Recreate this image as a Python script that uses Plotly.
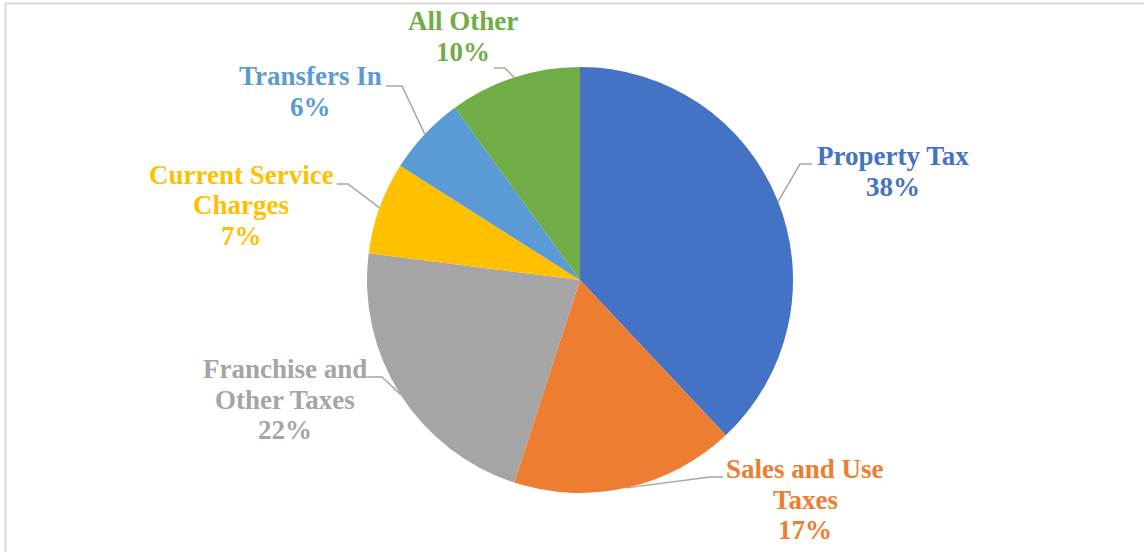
import math
import plotly.graph_objects as go

# ---- data ----
categories = ["Property Tax", "Sales and Use Taxes", "Franchise and Other Taxes",
              "Current Service Charges", "Transfers In", "All Other"]
values = [38, 17, 22, 7, 6, 10]
colors = ["#4472C4", "#ED7D31", "#A5A5A5", "#FFC000", "#5B9BD5", "#70AD47"]

# ---- label layout (pixels) ----
W, H = 1144, 552
CX, CY, R = 580, 280, 213
label_lines = [["Property Tax"], ["Sales and Use", "Taxes"], ["Franchise and", "Other Taxes"],
               ["Current Service", "Charges"], ["Transfers In"], ["All Other"]]
label_center = [(893, 156), (805, 469), (285, 369), (241, 175), (310, 76), (463, 21)]
elbow = [(800, 164), (710, 477), (382, 377), (348, 184), (402, 86), (505, 68)]
line_end_x = [812, 723, 367, 337, 386, 494]
LINE_H = 30.5
FONT = "Liberation Serif"
FS = 27


def px(x):
    return x / W


def py(y):
    return 1 - y / H


fig = go.Figure(go.Pie(
    labels=categories, values=values, sort=False, direction="clockwise", rotation=0,
    marker=dict(colors=colors, line=dict(width=0)),
    textinfo="none", hoverinfo="skip", showlegend=False,
    domain=dict(x=[px(CX - R), px(CX + R)], y=[py(CY + R), py(CY - R)]),
))

total = sum(values)
shapes = []
annotations = []
cum = 0
for i, v in enumerate(values):
    mid = (cum + v / 2) / total * 2 * math.pi
    cum += v
    sx = CX + R * math.sin(mid)
    sy = CY - R * math.cos(mid)
    ex, ey = elbow[i]
    path = f"M {px(sx)},{py(sy)} L {px(ex)},{py(ey)} L {px(line_end_x[i])},{py(ey)}"
    shapes.append(dict(type="path", xref="paper", yref="paper", path=path,
                       line=dict(color="#A6A6A6", width=1.5)))
    lines = label_lines[i] + [f"{round(v / total * 100)}%"]
    lx, ly = label_center[i]
    for k, t in enumerate(lines):
        annotations.append(dict(
            x=px(lx), y=py(ly + k * LINE_H), xref="paper", yref="paper",
            text=t, showarrow=False, xanchor="center", yanchor="middle",
            font=dict(family=FONT, size=FS, color=colors[i], weight="bold"),
        ))

# chart area border
shapes.append(dict(type="rect", xref="paper", yref="paper",
                   x0=px(5.5), y0=-0.05, x1=1.05, y1=py(3.5),
                   line=dict(color="#D9D9D9", width=2), fillcolor="rgba(0,0,0,0)"))

fig.update_layout(
    width=W, height=H, margin=dict(l=0, r=0, t=0, b=0),
    paper_bgcolor="white", plot_bgcolor="white",
    shapes=shapes, annotations=annotations,
)
fig.write_html("out.html", config={"displayModeBar": False},
               post_script="document.body.style.margin='0';document.body.style.overflow='hidden';")
